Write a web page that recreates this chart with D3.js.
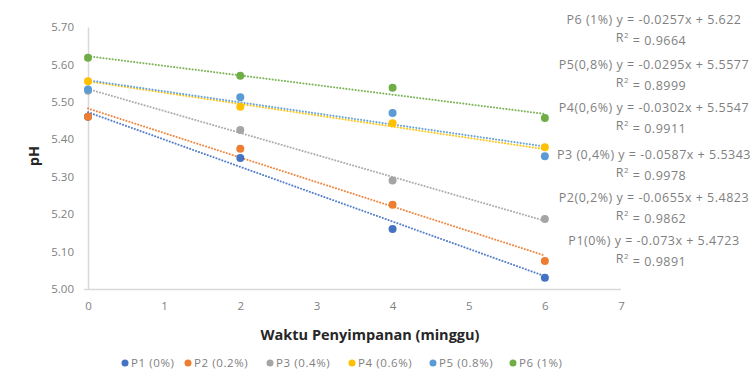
<!DOCTYPE html>
<html>
<head>
<meta charset="utf-8">
<script src="https://cdn.jsdelivr.net/npm/d3@7"></script>
<style>
  html, body { margin: 0; padding: 0; background: #fff; }
  svg { display: block; font-family: "Open Sans", "Liberation Sans", sans-serif; }
</style>
</head>
<body>
<svg id="chart" width="756" height="380"></svg>
<script>
// Storage time (weeks)
const weeks = [0, 2, 4, 6];

// pH per treatment
const p1 = [5.46, 5.35, 5.16, 5.03];
const p2 = [5.46, 5.375, 5.225, 5.075];
const p3 = [5.53, 5.425, 5.29, 5.187];
const p4 = [5.555, 5.487, 5.443, 5.379];
const p5 = [5.533, 5.512, 5.47, 5.355];
const p6 = [5.618, 5.57, 5.538, 5.457];

const seriesNames = ["P1 (0%)", "P2 (0.2%)", "P3 (0.4%)", "P4 (0.6%)", "P5 (0.8%)", "P6 (1%)"];
const seriesColors = ["#4472C4", "#ED7D31", "#A5A5A5", "#FFC000", "#5B9BD5", "#70AD47"];

// Linear trendline coefficients (slope, intercept) and R²
const slopes = [-0.073, -0.0655, -0.0587, -0.0302, -0.0295, -0.0257];
const intercepts = [5.4723, 5.4823, 5.5343, 5.5547, 5.5577, 5.622];
const r2 = ["0.9891", "0.9862", "0.9978", "0.9911", "0.8999", "0.9664"];
const eqLabels = [
  "P1(0%) y = -0.073x + 5.4723",
  "P2(0,2%) y = -0.0655x + 5.4823",
  "P3 (0,4%) y = -0.0587x + 5.5343",
  "P4(0,6%) y = -0.0302x + 5.5547",
  "P5(0,8%) y = -0.0295x + 5.5577",
  "P6 (1%) y = -0.0257x + 5.622"
];

const xTicks = [0, 1, 2, 3, 4, 5, 6, 7];
const yTicks = [5.0, 5.1, 5.2, 5.3, 5.4, 5.5, 5.6, 5.7];

const values = [p1, p2, p3, p4, p5, p6];

const svg = d3.select("#chart");
const x = d3.scaleLinear().domain([0, 7]).range([88, 621]);
const y = d3.scaleLinear().domain([5.0, 5.7]).range([289, 27]);

const axisColor = "#d9d9d9";
const textColor = "#7f7f7f";

// Axes
const xAxis = svg.append("g").attr("transform", `translate(0,${y(5.0)})`)
  .call(d3.axisBottom(x).tickValues(xTicks).tickSize(0).tickPadding(13).tickFormat(d3.format("d")));
const yAxis = svg.append("g").attr("transform", `translate(${x(0)},0)`)
  .call(d3.axisLeft(y).tickValues(yTicks).tickSize(0).tickPadding(14).tickFormat(d3.format(".2f")));
[xAxis, yAxis].forEach(g => {
  g.select(".domain").attr("stroke", axisColor).attr("stroke-width", 1.5);
  g.selectAll("text").attr("fill", textColor).attr("font-size", 11.5)
    .attr("font-family", "'Open Sans', sans-serif");
});
xAxis.select(".domain").attr("d", `M${x(0) - 4},0.5H${x(7)}`);

// Trendlines (dotted)
const line = d3.line().x(d => x(d[0])).y(d => y(d[1]));
values.forEach((vals, i) => {
  const pts = [0, 6].map(w => [w, intercepts[i] + slopes[i] * w]);
  svg.append("path")
    .attr("d", line(pts))
    .attr("fill", "none")
    .attr("stroke", seriesColors[i])
    .attr("stroke-width", 2)
    .attr("stroke-linecap", "round")
    .attr("stroke-dasharray", "0.1 3")
    .attr("opacity", 0.9);
});

// Data markers
values.forEach((vals, i) => {
  svg.append("g").selectAll("circle")
    .data(vals.map((v, j) => [weeks[j], v]))
    .join("circle")
    .attr("cx", d => x(d[0]))
    .attr("cy", d => y(d[1]))
    .attr("r", 4)
    .attr("fill", seriesColors[i]);
});

// Trendline equations
const eqY = [241, 198, 155, 108, 65, 20];
const eqG = svg.append("g").attr("fill", textColor).attr("font-size", 12.5)
  .attr("letter-spacing", 0.5).attr("text-anchor", "middle");
eqLabels.forEach((t, i) => {
  eqG.append("text").attr("x", 654).attr("y", eqY[i]).attr("dy", "0.35em").text(t);
  const r = eqG.append("text").attr("x", 651).attr("y", eqY[i] + 18).attr("dy", "0.35em");
  r.append("tspan").text("R");
  r.append("tspan").attr("font-size", 8).attr("dy", "-0.5em").text("2");
  r.append("tspan").attr("dy", "0.5em").text(" = " + r2[i]);
});

// Axis titles
svg.append("text")
  .attr("x", 370).attr("y", 335).attr("dy", "0.35em")
  .attr("text-anchor", "middle").attr("font-weight", "bold").attr("font-size", 14.5)
  .attr("fill", "#262626").text("Waktu Penyimpanan (minggu)");
svg.append("text")
  .attr("transform", "translate(34,156) rotate(-90)").attr("dy", "0.35em")
  .attr("text-anchor", "middle").attr("font-weight", "bold").attr("font-size", 14.5)
  .attr("fill", "#262626").text("pH");

// Legend
const legendX = [125, 188, 270, 352, 433, 513];
const lg = svg.append("g").attr("font-size", 11.5).attr("letter-spacing", 0.6).attr("fill", textColor);
seriesNames.forEach((n, i) => {
  lg.append("circle").attr("cx", legendX[i]).attr("cy", 363).attr("r", 3.5).attr("fill", seriesColors[i]);
  lg.append("text").attr("x", legendX[i] + 6).attr("y", 363).attr("dy", "0.35em").text(n);
});
</script>
</body>
</html>
